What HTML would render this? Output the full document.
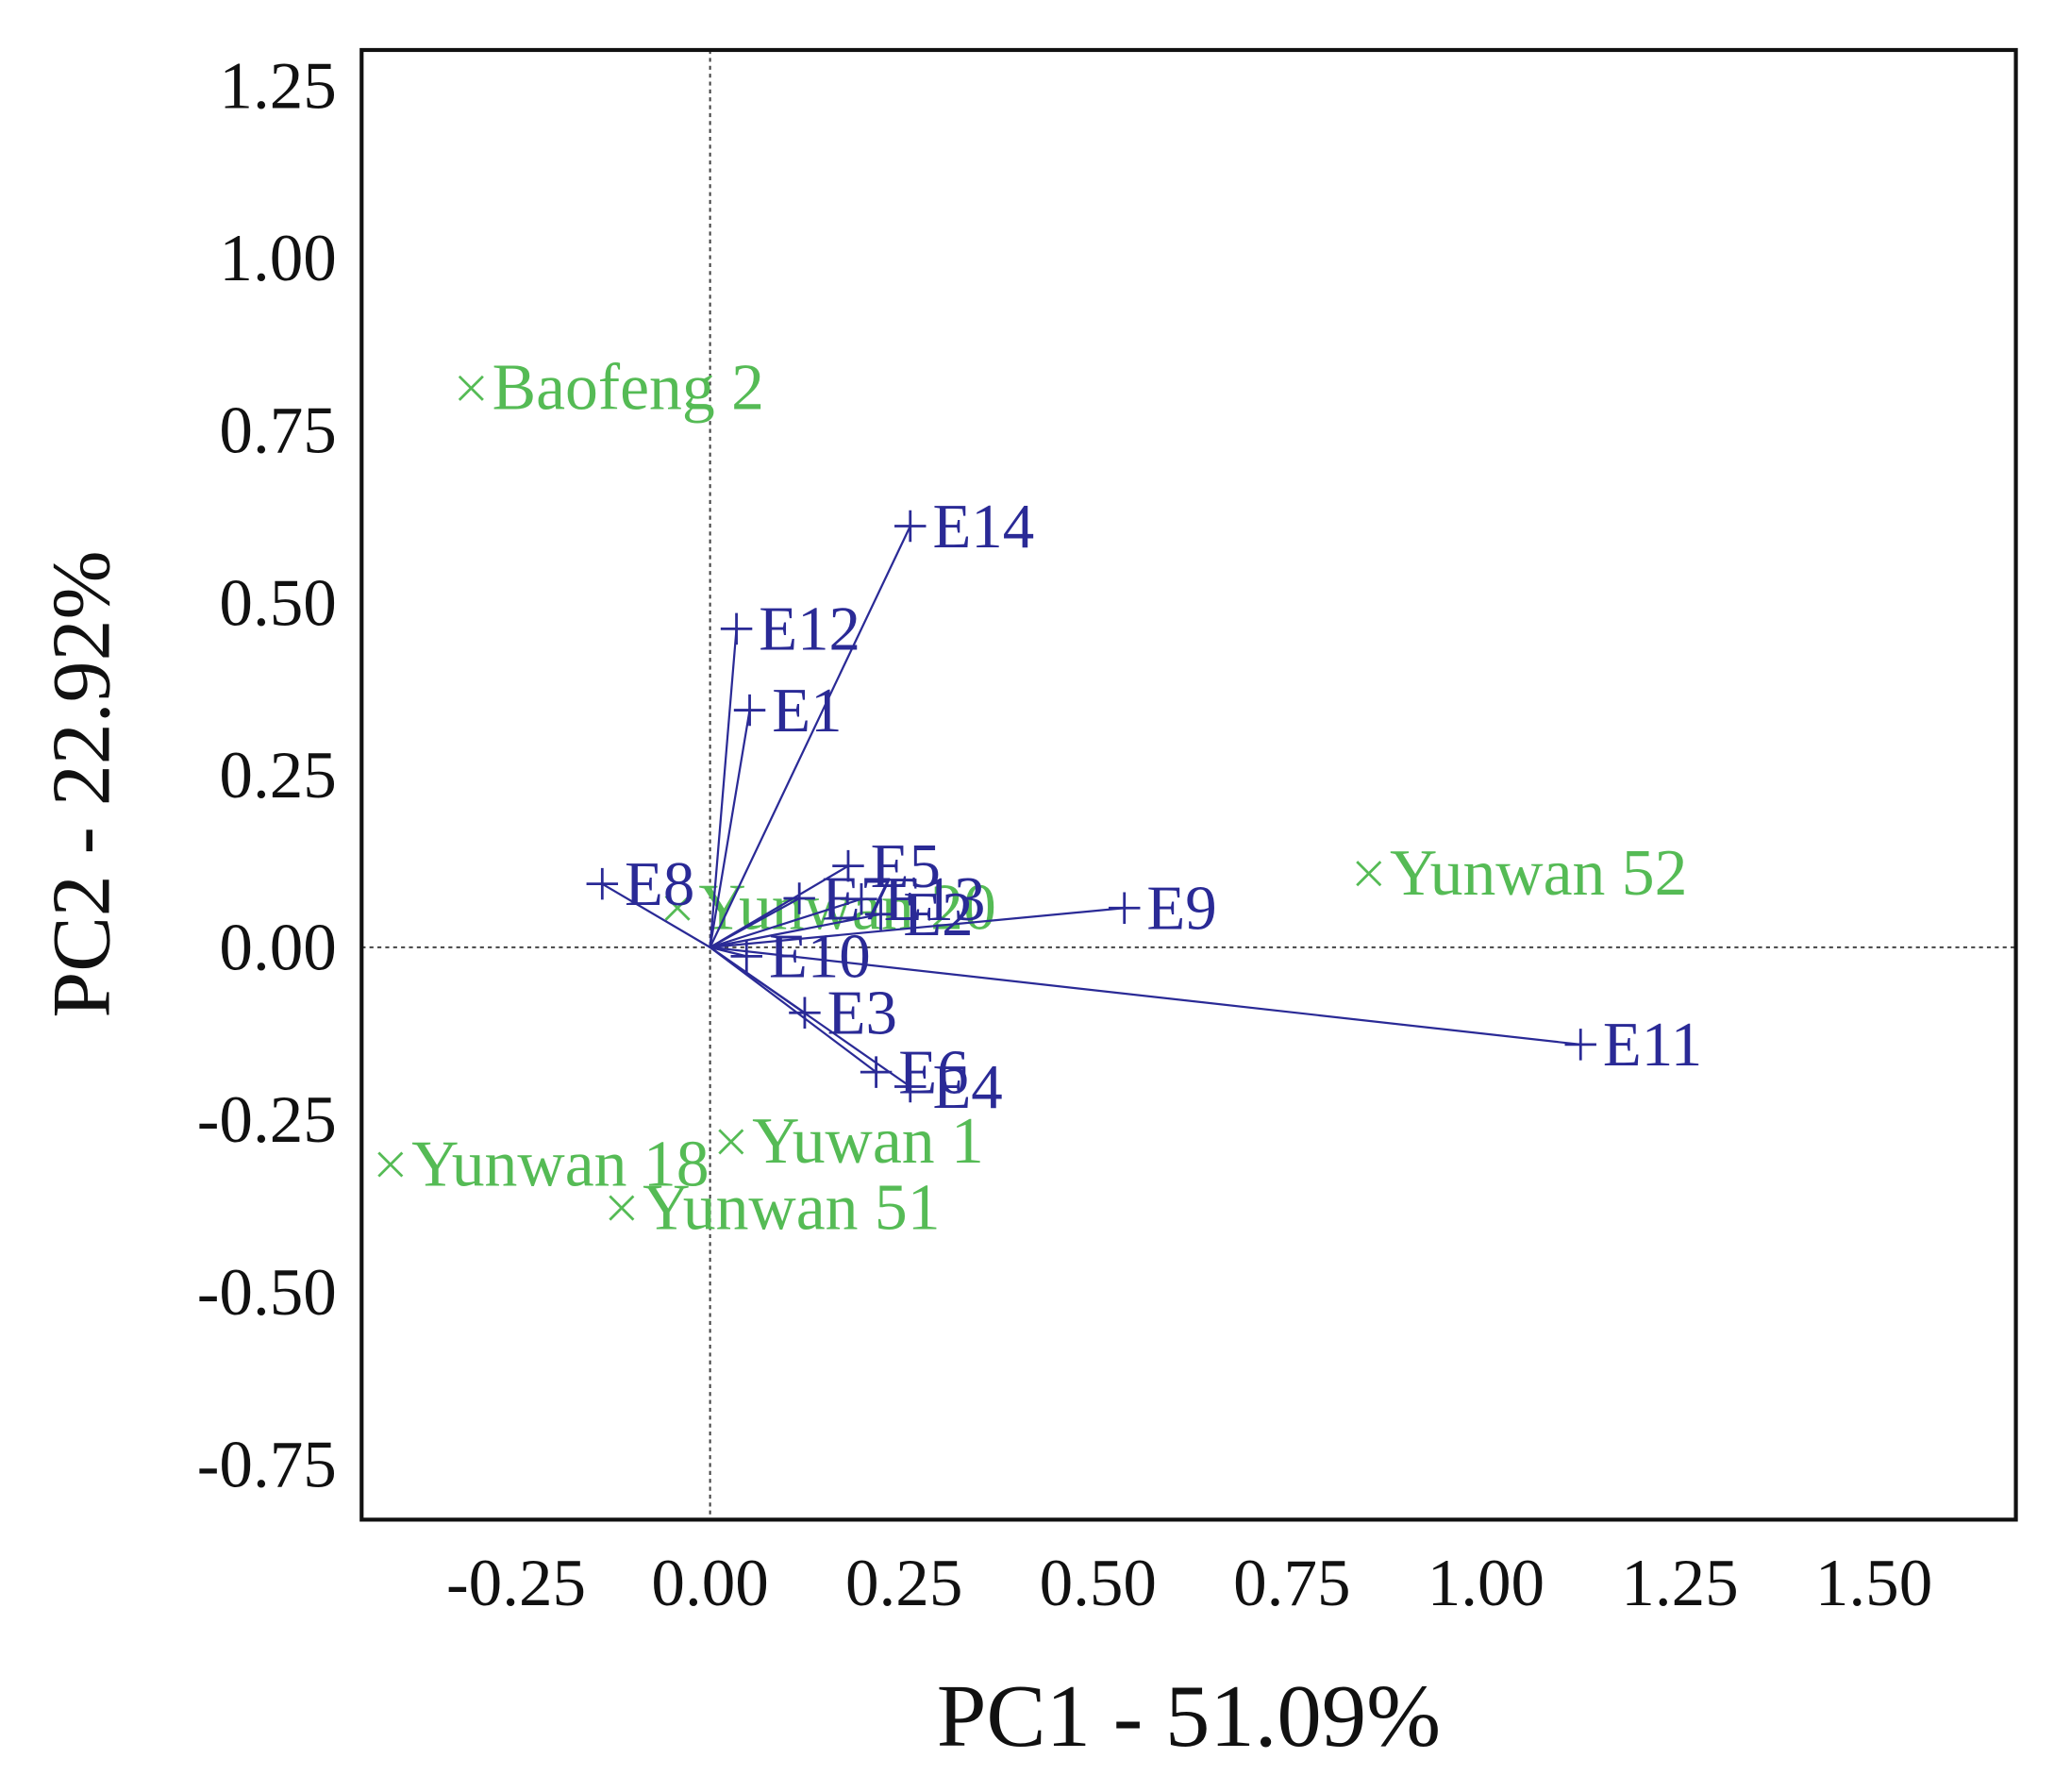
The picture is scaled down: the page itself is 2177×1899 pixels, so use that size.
<!DOCTYPE html>
<html><head><meta charset="utf-8"><style>
html,body{margin:0;padding:0;background:#fff;}
svg{display:block;}
text{font-family:"Liberation Serif",serif;}
</style></head><body>
<svg id="chart" width="2177" height="1899" viewBox="0 0 1562 1362" preserveAspectRatio="none" xmlns="http://www.w3.org/2000/svg">
<rect x="0" y="0" width="1562" height="1362" fill="#fff"/>
<g id="axes"></g>
<g id="marks"></g>
<rect x="275" y="38" width="1258" height="1117" fill="none" stroke="#111" stroke-width="3"/>
<text x="904" y="1327" font-size="68" text-anchor="middle" fill="#111">PC1 - 51.09%</text>
<text transform="translate(83,596) rotate(-90)" font-size="63" text-anchor="middle" fill="#111">PC2 - 22.92%</text>
</svg>
<script>
const xTicks = [-0.25, 0, 0.25, 0.5, 0.75, 1.0, 1.25, 1.5];
const yTicks = [1.25, 1.0, 0.75, 0.5, 0.25, 0, -0.25, -0.5, -0.75];
const envNames = ["E14","E12","E1","E8","E5","E7","E13","E2","E9","E10","E3","E6","E4","E11"];
const envPC1 = [0.258,0.034,0.051,-0.139,0.178,0.115,0.195,0.22,0.534,0.047,0.122,0.214,0.258,1.122];
const envPC2 = [0.611,0.462,0.344,0.092,0.118,0.071,0.07,0.048,0.057,-0.013,-0.095,-0.181,-0.202,-0.141];
const genoNames = ["Baofeng 2","Yunwan 52","Yunwan 18","Yunwan 51","Yuwan 1","Yunwan 20"];
const genoPC1 = [-0.308,0.849,-0.412,-0.114,0.027,-0.042];
const genoPC2 = [0.811,0.107,-0.315,-0.378,-0.282,0.057];

const NS = "http://www.w3.org/2000/svg";
const X = v => 540 + v * 590;
const Y = v => 720 - v * 524;
function mk(tag, attrs, parent, txt){
  const e = document.createElementNS(NS, tag);
  for (const k in attrs) e.setAttribute(k, attrs[k]);
  if (txt !== undefined) e.textContent = txt;
  parent.appendChild(e); return e;
}
const axes = document.getElementById('axes');
const marks = document.getElementById('marks');
const fmt = v => v.toFixed(2);
xTicks.forEach(t => {
  const e = mk('text', {x: X(t), y: 1220, 'font-size': 51, 'text-anchor': 'middle', fill: '#111'}, axes, fmt(t));
  
  
});
yTicks.forEach(t => {
  const e = mk('text', {x: 256, y: Y(t) + 17, 'font-size': 51, 'text-anchor': 'end', fill: '#111'}, axes, fmt(t));
  
  
});
const zx = mk('line', {x1: X(0), x2: X(0), y1: 38, y2: 1155, stroke: '#444', 'stroke-width': 1.5, 'stroke-dasharray': '3,3'}, axes);


const zy = mk('line', {x1: 275, x2: 1533, y1: Y(0), y2: Y(0), stroke: '#444', 'stroke-width': 1.5, 'stroke-dasharray': '3,3'}, axes);



const blue = '#2a2a96', green = '#55bb55';
genoNames.forEach((n, i) => {
  const x = X(genoPC1[i]), y = Y(genoPC2[i]);
  const g = mk('g', {}, marks);
  
  
  mk('path', {d: `M${x-9},${y-9}L${x+9},${y+9}M${x-9},${y+9}L${x+9},${y-9}`, stroke: green, 'stroke-width': 2}, g);
  mk('text', {x: x + 16, y: y + 16, 'font-size': 50, fill: green}, g, n);
});
envNames.forEach((n, i) => {
  const x = X(envPC1[i]), y = Y(envPC2[i]);
  const g = mk('g', {}, marks);
  
  
  mk('line', {x1: X(0), y1: Y(0), x2: x, y2: y, stroke: blue, 'stroke-width': 1.6}, g);
  mk('path', {d: `M${x-12},${y}L${x+12},${y}M${x},${y-12}L${x},${y+12}`, stroke: blue, 'stroke-width': 2}, g);
  mk('text', {x: x + 17, y: y + 16, 'font-size': 48, fill: blue}, g, n);
});
</script>
</body></html>
